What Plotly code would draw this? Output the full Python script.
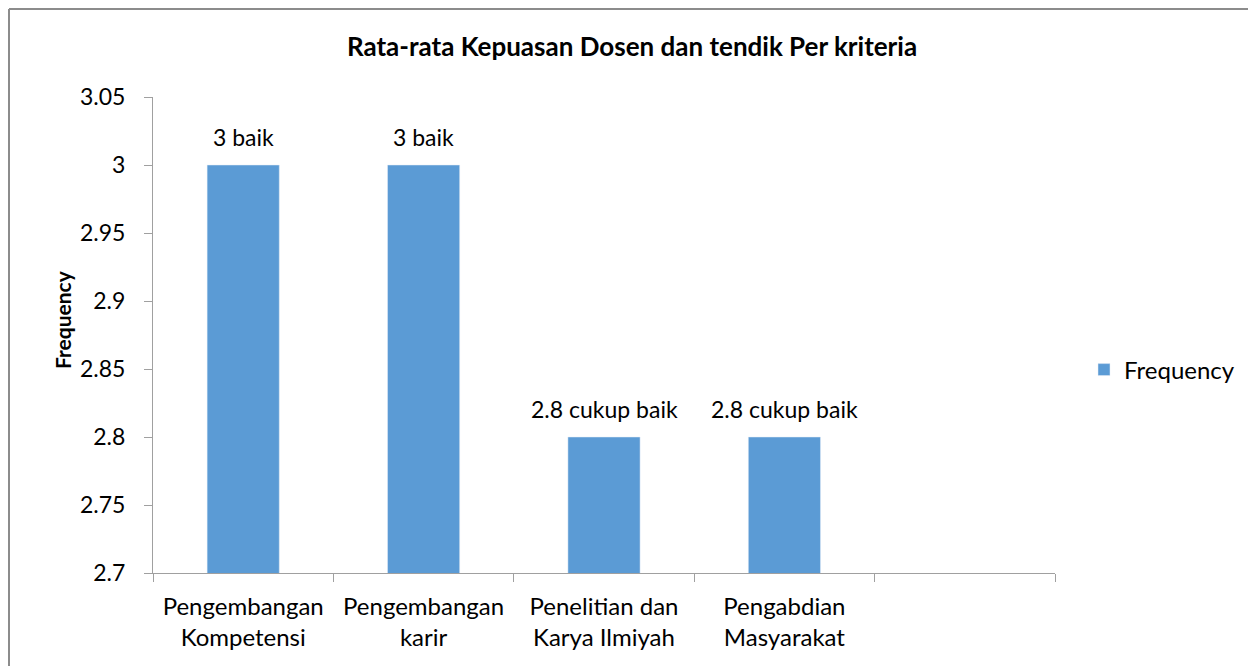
import plotly.graph_objects as go

categories = [
    "Pengembangan<br>Kompetensi",
    "Pengembangan<br>karir",
    "Penelitian dan<br>Karya Ilmiyah",
    "Pengabdian<br>Masyarakat",
    " ",
]
values = [3.0, 3.0, 2.8, 2.8, None]
bar_labels = ["3 baik", "3 baik", "2.8 cukup baik", "2.8 cukup baik", ""]
y_ticks = [2.7, 2.75, 2.8, 2.85, 2.9, 2.95, 3.0, 3.05]
y_tick_text = ["2.7", "2.75", "2.8", "2.85", "2.9", "2.95", "3", "3.05"]

FONT = "Lato, Open Sans, sans-serif"

# the page has an 8px body margin, so the figure starts at (8, 8)
W, H = 1248, 658
L, R, T, B = 145, 1047, 89, 565


def px_x(p):
    return (p - L) / (R - L)


def px_y(p):
    return (B - p) / (B - T)


fig = go.Figure()
fig.add_trace(go.Bar(
    x=categories,
    y=values,
    name="Frequency",
    marker=dict(color="#5B9BD5"),
    width=0.4,
    showlegend=True,
))

# data labels above bars
for cat, val, lab in zip(categories, values, bar_labels):
    if val is None or not lab:
        continue
    fig.add_annotation(
        x=cat, y=val, text=lab, showarrow=False,
        yanchor="bottom", yshift=12,
        font=dict(family=FONT, size=23, color="#000000"),
    )

fig.update_layout(
    width=W,
    height=H,
    margin=dict(l=L, r=W - R, t=T, b=H - B),
    paper_bgcolor="white",
    plot_bgcolor="white",
    font=dict(family=FONT, size=23, color="#000000"),
    title=dict(
        text="<b>Rata-rata Kepuasan Dosen dan tendik Per kriteria</b>",
        x=624 / W,
        xanchor="center",
        y=1 - 39 / H,
        yanchor="middle",
        font=dict(family=FONT, size=26, color="#000000"),
    ),
    legend=dict(
        x=px_x(1076),
        y=px_y(362),
        xanchor="left",
        yanchor="middle",
        font=dict(family=FONT, size=24),
        itemwidth=30,
    ),
)

fig.update_xaxes(
    type="category",
    categoryorder="array",
    categoryarray=categories,
    range=[-0.5, 4.5],
    showline=True,
    linecolor="#A0A0A0",
    linewidth=1,
    ticks="outside",
    tickson="boundaries",
    ticklen=8,
    tickcolor="#A0A0A0",
    showgrid=False,
    tickfont=dict(family=FONT, size=24),
    ticklabelstandoff=12,
)

fig.update_yaxes(
    range=[2.7, 3.05],
    tickvals=y_ticks,
    ticktext=y_tick_text,
    showline=True,
    linecolor="#A0A0A0",
    linewidth=1,
    ticks="outside",
    ticklen=8,
    tickcolor="#A0A0A0",
    showgrid=False,
    zeroline=False,
    tickfont=dict(family=FONT, size=23),
    ticklabelstandoff=14,
)

# y-axis title
fig.add_annotation(
    xref="paper", yref="paper", x=px_x(54), y=px_y(312),
    text="<b>Frequency</b>", textangle=-90, showarrow=False,
    xanchor="center", yanchor="middle",
    font=dict(family=FONT, size=21, color="#000000"),
)

# chart border (top and left edges visible)
fig.add_shape(type="line", xref="paper", yref="paper",
              x0=px_x(1), x1=px_x(W), y0=px_y(1), y1=px_y(1),
              line=dict(color="#8C8C8C", width=2))
fig.add_shape(type="line", xref="paper", yref="paper",
              x0=px_x(1), x1=px_x(1), y0=px_y(1), y1=px_y(H),
              line=dict(color="#8C8C8C", width=2))

fig.write_html("out.html")
